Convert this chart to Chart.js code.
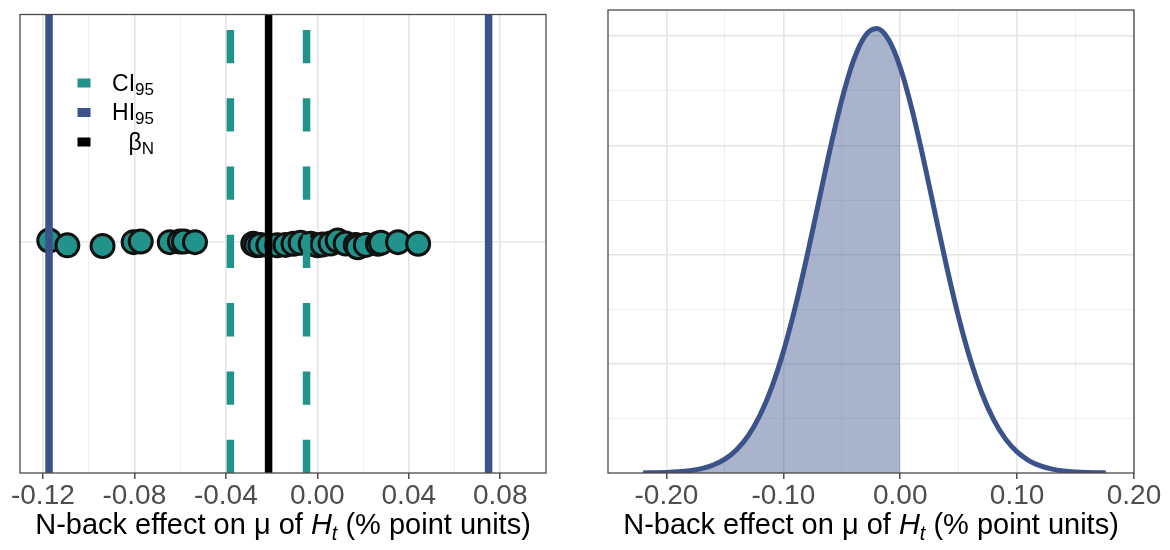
<!DOCTYPE html>
<html><head><meta charset="utf-8">
<script src="https://cdn.jsdelivr.net/npm/chart.js@4.4.1/dist/chart.umd.min.js"></script>
<style>
html,body{margin:0;padding:0;background:#fff;}
#wrap{position:relative;width:1170px;height:550px;overflow:hidden;}
#c1{position:absolute;left:0;top:0;}
#c2{position:absolute;left:580px;top:0;}
</style></head><body>
<div id="wrap"><canvas id="c1" width="575" height="550"></canvas><canvas id="c2" width="590" height="550"></canvas></div>
<script>
// ---------- Left panel data ----------
const dotX = [-0.1172,-0.1093,-0.0939,-0.0803,-0.0772,-0.0645,-0.0601,-0.0583,-0.0535,-0.0280,-0.0267,-0.0249,-0.0214,-0.0175,-0.0139,-0.0104,-0.0073,-0.0029,0.0001,0.0023,0.0058,0.0089,0.0124,0.0168,0.0177,0.0212,0.0265,0.0278,0.0353,0.0441];
const dotJitter = [0.014,-0.007,-0.010,0.007,0.010,0.007,0.010,0.010,0.007,0.000,-0.006,-0.005,-0.006,-0.007,-0.005,0.000,0.004,0.000,-0.007,-0.003,0.001,0.014,0.001,-0.005,-0.015,-0.005,0.000,0.004,0.007,0.000];
const hiBounds = [-0.1173, 0.0749];
const ciBounds = [-0.0380, -0.0047];
const betaN = -0.0213;
const leftTicks = [-0.12,-0.10,-0.08,-0.06,-0.04,-0.02,0.00,0.02,0.04,0.06,0.08];
const legendLabels = ['CI','HI','\u03B2'];
const legendSubs = ['95','95','N'];

// ---------- Right panel data ----------
const densX = [-0.22,-0.21,-0.20,-0.19,-0.18,-0.17,-0.16,-0.15,-0.14,-0.13,-0.12,-0.11,-0.10,-0.09,-0.08,-0.07,-0.06,-0.05,-0.04,-0.03,-0.02,-0.01,0.00,0.01,0.02,0.03,0.04,0.05,0.06,0.07,0.08,0.09,0.10,0.11,0.12,0.13,0.14,0.15,0.16,0.17,0.176];
const densY = [0.002,0.005,0.010,0.021,0.042,0.080,0.146,0.254,0.427,0.686,1.058,1.565,2.221,3.022,3.944,4.938,5.931,6.834,7.553,8.006,8.140,7.939,7.428,6.665,5.738,4.737,3.752,2.850,2.077,1.452,0.973,0.625,0.386,0.228,0.130,0.071,0.037,0.019,0.009,0.004,0.002];
const shadeLimit = 0.00;
const rightTicks = [-0.20,-0.15,-0.10,-0.05,0.00,0.05,0.10,0.15,0.20];
const rightYGrid = [1,2,3,4,5,6,7,8];

// ---------- styling ----------
const FF = '"Liberation Sans", Arial, sans-serif';
const TEAL = '#22938A';
const BLUE = '#3B528B';

function framePlugin(){
  return {
    id:'frame',
    afterDraw(chart){
      const ctx = chart.ctx, ca = chart.chartArea;
      ctx.save();
      ctx.strokeStyle = '#4a4a4a';
      ctx.lineWidth = 1.3;
      ctx.strokeRect(ca.left, ca.top, ca.right-ca.left, ca.bottom-ca.top);
      const parts = [
        {t:'N-back effect on \u03BC of ', f:'29px '+FF, dy:0},
        {t:'H', f:'italic 29px '+FF, dy:0},
        {t:'t', f:'italic 20px '+FF, dy:6},
        {t:' (% point units)', f:'29px '+FF, dy:0}
      ];
      let total = 0;
      parts.forEach(p=>{ctx.font=p.f; p.w=ctx.measureText(p.t).width; total+=p.w;});
      let x = (ca.left+ca.right)/2 - total/2;
      const base = 534;
      ctx.fillStyle = '#000';
      ctx.textBaseline = 'alphabetic';
      ctx.textAlign = 'left';
      parts.forEach(p=>{ctx.font=p.f; ctx.fillText(p.t, x, base+p.dy); x+=p.w;});
      ctx.restore();
    }
  };
}

const legendPlugin = {
  id:'subLegend',
  afterDraw(chart){
    const ctx = chart.ctx;
    const colors = [TEAL, BLUE, '#000'];
    const rowY = [83, 112.5, 142];
    ctx.save();
    legendLabels.forEach((lab,i)=>{
      ctx.fillStyle = colors[i];
      ctx.fillRect(84-6.5, rowY[i]-4.5, 13, 9);
      ctx.font = '23px '+FF; const w1 = ctx.measureText(lab).width;
      ctx.font = '17px '+FF; const w2 = ctx.measureText(legendSubs[i]).width;
      const xr = 154, x0 = xr - w1 - w2, base = rowY[i]+7.5;
      ctx.fillStyle = '#000'; ctx.textBaseline='alphabetic'; ctx.textAlign='left';
      ctx.font = '23px '+FF; ctx.fillText(lab, x0, base);
      ctx.font = '17px '+FF; ctx.fillText(legendSubs[i], x0+w1, base+4);
    });
    ctx.restore();
  }
};

function gridColor(major){ return major ? '#E4E4E4' : '#EFEFEF'; }

// ---------- Left chart ----------
const vLine = (v, color, dash) => ({
  type:'scatter', showLine:true, data:[{x:v,y:-1},{x:v,y:1}],
  borderColor:color, borderWidth:7.5, borderDash:dash||[], pointRadius:0, order:0, borderCapStyle:'butt'
});
const isMajorL = v => Math.abs(Math.round(v*100)) % 4 === 0;

new Chart(document.getElementById('c1'), {
  type:'scatter',
  data:{datasets:[
    vLine(hiBounds[0], BLUE), vLine(hiBounds[1], BLUE),
    vLine(ciBounds[0], TEAL, [33.3,35]), vLine(ciBounds[1], TEAL, [33.3,35]),
    vLine(betaN, '#000'),
    {type:'scatter', data:dotX.map((x,i)=>({x:x,y:dotJitter[i]})), backgroundColor:TEAL, borderColor:'#111',
     borderWidth:3, pointRadius:11.5, order:1}
  ]},
  options:{
    responsive:false, animation:false, devicePixelRatio:1,
    layout:{padding:{left:20,right:29,top:10,bottom:0}},
    plugins:{legend:{display:false}, tooltip:{enabled:false}},
    scales:{
      x:{type:'linear', min:-0.13, max:0.10,
        afterBuildTicks: s => { s.ticks = leftTicks.map(v=>({value:v})); },
        afterFit: s => { s.height = 77; },
        border:{display:false},
        grid:{ color: c => gridColor(c.tick && isMajorL(c.tick.value)), lineWidth: c => (c.tick && isMajorL(c.tick.value)) ? 1.6 : 1,
          tickColor: c => (c.tick && isMajorL(c.tick.value)) ? '#333' : 'rgba(0,0,0,0)', tickWidth:1.3, tickLength:6 },
        ticks:{ padding:0, color:'#4D4D4D', font:{family:FF, size:28}, maxRotation:0, autoSkip:false,
          callback: v => isMajorL(v) ? v.toFixed(2) : '' }
      },
      y:{min:-1, max:1,
        afterBuildTicks: s => { s.ticks = [{value:0.01}]; },
        afterFit: s => { s.width = 0; },
        border:{display:false},
        grid:{color:'#E8E8E8', lineWidth:1.6, drawTicks:false},
        ticks:{display:false}
      }
    }
  },
  plugins:[framePlugin(), legendPlugin]
});

// ---------- Right chart ----------
const isMajorR = v => Math.abs(Math.round(v*100)) % 10 === 0;
const densPts = densX.map((x,i)=>({x:x,y:densY[i]}));
const shadePts = densPts.filter(p => p.x <= shadeLimit + 1e-9);

new Chart(document.getElementById('c2'), {
  type:'line',
  data:{datasets:[
    {data:densPts, borderColor:BLUE, borderWidth:5, pointRadius:0, fill:false, cubicInterpolationMode:'monotone', order:0},
    {data:shadePts, borderWidth:0, borderColor:'rgba(0,0,0,0)', pointRadius:0, backgroundColor:'rgba(59,82,139,0.44)', fill:'origin', cubicInterpolationMode:'monotone', order:1}
  ]},
  options:{
    responsive:false, animation:false, devicePixelRatio:1,
    layout:{padding:{left:28,right:36,top:10,bottom:0}},
    plugins:{legend:{display:false}, tooltip:{enabled:false}, filler:{propagate:false}},
    scales:{
      x:{type:'linear', min:-0.25, max:0.20,
        afterBuildTicks: s => { s.ticks = rightTicks.map(v=>({value:v})); },
        afterFit: s => { s.height = 77; },
        border:{display:false},
        grid:{ color: c => gridColor(c.tick && isMajorR(c.tick.value)), lineWidth: c => (c.tick && isMajorR(c.tick.value)) ? 1.6 : 1,
          tickColor: c => (c.tick && isMajorR(c.tick.value)) ? '#333' : 'rgba(0,0,0,0)', tickWidth:1.3, tickLength:6 },
        ticks:{ padding:0, color:'#4D4D4D', font:{family:FF, size:28}, maxRotation:0, autoSkip:false,
          callback: v => isMajorR(v) ? v.toFixed(2) : '' }
      },
      y:{type:'linear', min:0, max:8.48,
        afterBuildTicks: s => { s.ticks = rightYGrid.map(v=>({value:v})); },
        afterFit: s => { s.width = 0; },
        border:{display:false},
        grid:{ color: c => gridColor(c.tick && c.tick.value % 2 === 0), lineWidth: c => (c.tick && c.tick.value % 2 === 0) ? 1.6 : 1, drawTicks:false},
        ticks:{display:false}
      }
    }
  },
  plugins:[framePlugin()]
});
</script>
</body></html>
